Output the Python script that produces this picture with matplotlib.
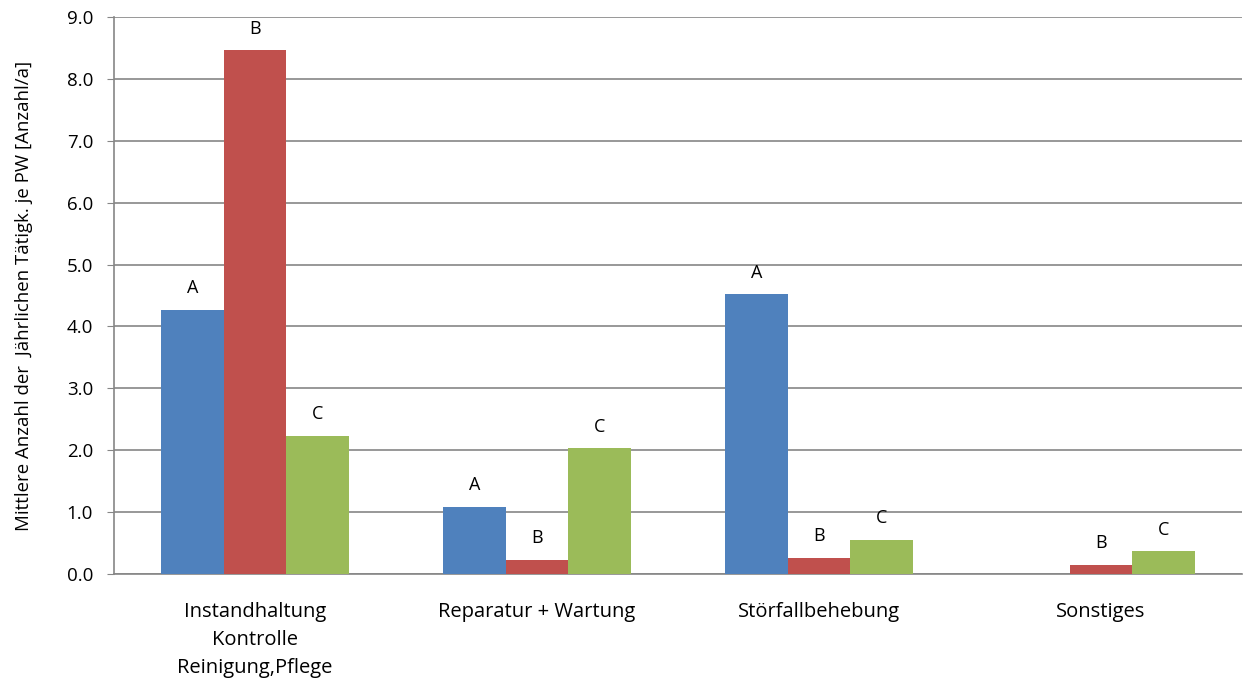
import matplotlib.pyplot as plt
import numpy as np

categories = ["Instandhaltung\nKontrolle\nReinigung,Pflege", "Reparatur + Wartung",
              "Störfallbehebung", "Sonstiges"]
series = ["A", "B", "C"]
vals_a = [4.27, 1.09, 4.52, 0.0]
vals_b = [8.46, 0.23, 0.26, 0.15]
vals_c = [2.23, 2.03, 0.55, 0.37]
colours = ["#4F81BD", "#C0504D", "#9BBB59"]

plt.rcParams['font.family'] = ['Open Sans', 'DejaVu Sans']

fig = plt.figure(figsize=(12.43, 6.84), dpi=100)
ax = fig.add_axes([114/1243, 1-574/684, 1128/1243, 557/684])

x = np.arange(len(categories))
w = 1/4.5
for i, (name, vals) in enumerate(zip(series, [vals_a, vals_b, vals_c])):
    pos = x + (i-1)*w
    ax.bar(pos, vals, width=w, color=colours[i], zorder=3)
    for p, v in zip(pos, vals):
        if v > 0:
            ax.annotate(name, (p, v), xytext=(0, 9), textcoords="offset points",
                        ha="center", va="bottom", fontsize=13)

ax.set_xlim(-0.5, 3.5)
ax.set_ylim(0, 9)
ax.set_yticks(np.arange(0, 9.1, 1.0))
ax.set_yticklabels([f"{t:.1f}" for t in np.arange(0, 9.1, 1.0)], fontsize=13.5)
ax.set_xticks(x)
ax.set_xticklabels(categories, fontsize=14.5, linespacing=1.55, va="top")
ax.tick_params(axis="x", length=0, pad=20)
ax.tick_params(axis="y", length=5, color="#868686", pad=10)
ax.yaxis.grid(True, color="#868686", linewidth=1.2, zorder=0)
for s in ["top", "right"]:
    ax.spines[s].set_visible(False)
for s in ["left", "bottom"]:
    ax.spines[s].set_color("#868686")
    ax.spines[s].set_linewidth(1.2)
ax.set_ylabel("Mittlere Anzahl der  Jährlichen Tätigk. je PW [Anzahl/a]", fontsize=13.4, labelpad=24)

fig.savefig("out.png", dpi=100)
